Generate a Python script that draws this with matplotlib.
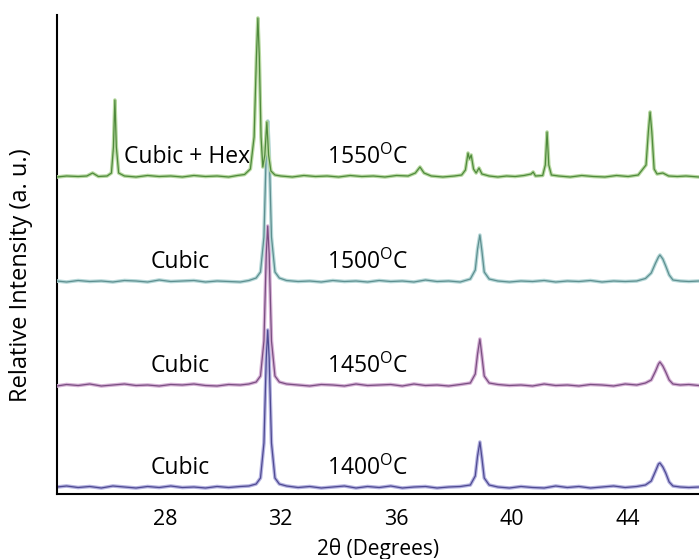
import numpy as np
import matplotlib
matplotlib.use('Agg')
import matplotlib.pyplot as plt

plt.rcParams['font.family'] = ['Open Sans', 'DejaVu Sans']
plt.rcParams['mathtext.default'] = 'regular'

# 2theta (deg) and relative intensity, each trace from its own baseline
x_1400 = [24.27, 24.6, 25.0, 25.4, 25.8, 26.2, 26.6, 27.0, 27.4, 27.8, 28.2, 28.6, 29.0, 29.4, 29.8, 30.2,
          30.6, 30.9, 31.15, 31.3, 31.42, 31.5, 31.55, 31.6, 31.68, 31.8, 31.95, 32.2, 32.6, 33.0, 33.4, 33.8,
          34.2, 34.6, 35.0, 35.4, 35.8, 36.2, 36.6, 37.0, 37.4, 37.8, 38.2, 38.55, 38.72, 38.8, 38.88, 38.95,
          39.03, 39.2, 39.5, 39.9, 40.3, 40.7, 41.1, 41.5, 41.9, 42.3, 42.7, 43.1, 43.5, 43.9, 44.3, 44.6,
          44.8, 44.95, 45.05, 45.1, 45.2, 45.3, 45.42, 45.55, 45.8, 46.1, 46.45]
y_1400 = [1, 2, 0.5, 1.5, 0, 2, 1, 0, 1.5, 0.5, 2, 0.5, 1, 0, 1.5, 0.5,
          1.5, 2, 4, 10, 45, 130, 158, 130, 45, 10, 4, 2, 0.5, 1.5, 0, 1,
          2, 0, 1.5, 0.5, 2, 0, 1, 1.5, 0, 1, 1.5, 3, 12, 32, 46, 30,
          10, 3, 1, 0, 1.5, 0.5, 0, 2, 0.5, 1.5, 0, 1, 2, 0.5, 1.5, 3,
          7, 17, 24, 25, 21, 15, 6, 2, 1, 0.5, 1]

x_1450 = x_1400
y_1450 = [0, 1.5, 0.5, 2, 0, 1, 2, 0.5, 1, 0, 1.5, 1, 2, 0.5, 0, 1.5,
          1, 2, 4, 10, 45, 132, 160, 132, 45, 10, 4, 2, 1, 0, 1.5, 1,
          0, 2, 0.5, 1, 1.5, 0, 2, 0.5, 1, 0, 1.5, 3, 12, 32, 47, 30,
          10, 3, 1.5, 0.5, 1, 0, 2, 0.5, 1, 0, 1.5, 1, 0, 2, 1, 3,
          6, 15, 22, 24, 20, 14, 6, 2, 1, 1.5, 0.5]

x_1500 = x_1400
y_1500 = [1, 0, 1.5, 0.5, 1, 0, 1.5, 1, 0, 2, 0.5, 1, 1.5, 0, 1, 0.5,
          0, 1.5, 4, 10, 45, 132, 161, 132, 45, 10, 4, 1.5, 0.5, 1, 0, 1.5,
          0.5, 1, 0, 1.5, 0.5, 1, 0, 2, 0.5, 1, 0, 3, 12, 33, 47, 31,
          10, 3, 1, 0, 1, 0.5, 1.5, 0, 1, 0.5, 1.5, 0, 1, 0.5, 1, 3.5,
          9, 19, 25, 27, 23, 16, 7, 2, 1, 0.5, 1]

x_1550 = [24.27, 24.6, 25.0, 25.3, 25.5, 25.7, 26.0, 26.15, 26.22, 26.27, 26.32, 26.4, 26.6, 27.0, 27.4, 27.8,
          28.2, 28.6, 29.0, 29.4, 29.8, 30.2, 30.5, 30.75, 30.95, 31.08, 31.16, 31.21, 31.26, 31.32, 31.38, 31.45,
          31.52, 31.58, 31.66, 31.8, 32.0, 32.4, 32.8, 33.2, 33.6, 34.0, 34.4, 34.8, 35.2, 35.6, 36.0, 36.4,
          36.65, 36.81, 36.95, 37.2, 37.6, 38.0, 38.25, 38.38, 38.47, 38.52, 38.58, 38.66, 38.75, 38.85, 38.95, 39.2,
          39.5, 39.8, 40.1, 40.4, 40.65, 40.72, 40.8, 41.05, 41.14, 41.2, 41.26, 41.35, 41.6, 42.0, 42.4, 42.8,
          43.2, 43.6, 44.0, 44.35, 44.62, 44.7, 44.76, 44.82, 44.9, 45.0, 45.2, 45.4, 45.7, 46.0, 46.45]
y_1550 = [0, 1, 0.5, 1, 4, 0.5, 1, 4, 30, 77, 30, 4, 1, 0, 1.5, 0.5,
          1, 0, 1.5, 0.5, 1, 0, 1.5, 2.5, 8, 40, 120, 159, 120, 40, 10, 22,
          55, 22, 6, 2, 1, 0, 1.5, 0.5, 1, 0, 1.5, 0.5, 1, 0, 1.5, 1,
          4, 10, 4, 1, 0, 1, 2, 7, 24, 18, 22, 8, 4, 9, 3, 1,
          0, 1, 0.5, 1.5, 3, 5, 1, 1.5, 12, 45, 12, 2, 1, 0, 1.5, 0.5,
          0, 1.5, 0.5, 2, 12, 45, 65, 45, 8, 3, 4, 1, 0.5, 1, 0]

temps = ['1400', '1450', '1500', '1550']
phases = ['Cubic', 'Cubic', 'Cubic', 'Cubic + Hex']
offsets = [6, 108, 212, 317]
xs = [x_1400, x_1450, x_1500, x_1550]
ys = [y_1400, y_1450, y_1500, y_1550]

core_colors = ['#4f4a92', '#7a4f82', '#5e8f90', '#4f8a3c']
halo_colors = ['#b4b2e0', '#d6b2d6', '#b6d8d8', '#b8d9a2']

fig = plt.figure(figsize=(6.99, 5.59), dpi=100)
ax = fig.add_axes([57 / 699, 65 / 559, 1 - 57 / 699, (494 - 15) / 559])

for i in range(4):
    yy = np.array(ys[i]) + offsets[i]
    ax.plot(xs[i], yy, color=halo_colors[i], lw=2.6, zorder=2 + i)
    ax.plot(xs[i], yy, color=core_colors[i], lw=0.9, zorder=2 + i)
    ax.text(28.52 if i < 3 else 28.76, offsets[i] + 20, phases[i], ha='center', va='center', fontsize=16.5)
    ax.text(33.6, offsets[i] + 20, temps[i] + '$^{O}$C', ha='left', va='center', fontsize=16.5)

ax.set_xlim(24.27, 46.45)
ax.set_ylim(0, 479)
ax.set_xticks([28, 32, 36, 40, 44])
ax.set_yticks([])
ax.tick_params(axis='x', length=0, pad=11, labelsize=15.5)
ax.spines['top'].set_visible(False)
ax.spines['right'].set_visible(False)
ax.spines['left'].set_linewidth(1.5)
ax.spines['bottom'].set_linewidth(1.5)
ax.set_xlabel('2\u03b8 (Degrees)', fontsize=15)
ax.xaxis.set_label_coords(0.5, -44 / 479)
ax.set_ylabel('Relative Intensity (a. u.)', fontsize=17)
ax.yaxis.set_label_coords(-24 / 642, 0.457)

fig.savefig('out.png', dpi=100)
